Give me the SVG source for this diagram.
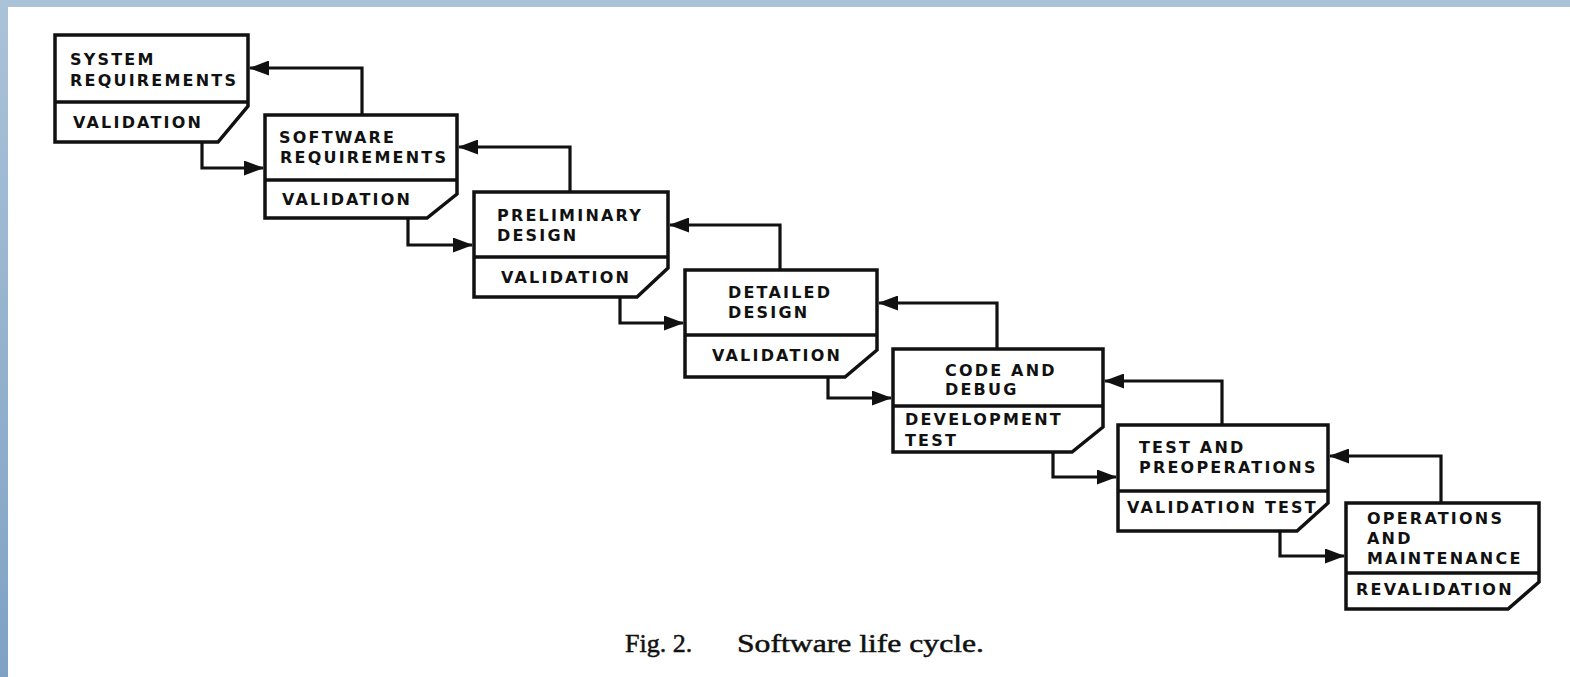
<svg xmlns="http://www.w3.org/2000/svg" width="1570" height="677" viewBox="0 0 1570 677">
<defs>
<linearGradient id="edge" x1="0" y1="0" x2="0" y2="1">
<stop offset="0" stop-color="#abc3d9"/>
<stop offset="1" stop-color="#7fa2c3"/>
</linearGradient>
<marker id="ah" markerUnits="userSpaceOnUse" markerWidth="20" markerHeight="15" refX="19" refY="7.5" orient="auto">
<path d="M0,0 L20,7.5 L0,15 Z" fill="#111"/>
</marker>
<style>
.box{fill:#fff;stroke:#111;stroke-width:3.5;stroke-linejoin:miter}
.div{stroke:#111;stroke-width:3.5}
.lbl{font-family:"DejaVu Sans","Liberation Sans",Arial,sans-serif;font-weight:bold;font-size:16px;letter-spacing:2.2px;fill:#111}
.con{fill:none;stroke:#111;stroke-width:3.2;marker-end:url(#ah)}
.cap{font-family:"Liberation Serif","Times New Roman",serif;font-size:26px;fill:#111;stroke:#111;stroke-width:0.5}
</style>
</defs>
<rect x="0" y="0" width="1570" height="677" fill="#fff"/>
<rect x="0" y="0" width="1570" height="7" fill="#abc3d9"/>
<rect x="0" y="0" width="8" height="677" fill="url(#edge)"/>

<g id="connectors">
<path class="con" d="M362,115 V68 H250"/>
<path class="con" d="M570,192 V147 H459"/>
<path class="con" d="M780,270 V225 H670"/>
<path class="con" d="M997,349 V303 H879"/>
<path class="con" d="M1222,425 V381 H1105"/>
<path class="con" d="M1441,503 V456 H1330"/>
<path class="con" d="M202,142 V168 H263"/>
<path class="con" d="M408,218 V245 H472"/>
<path class="con" d="M620,297 V323 H683"/>
<path class="con" d="M828,377 V398 H891"/>
<path class="con" d="M1053,452 V477 H1116"/>
<path class="con" d="M1280,531 V556 H1344"/>
</g>

<g id="system-requirements">
<path class="box" d="M55,35 H248 V106 L218,142 H55 Z"/>
<line class="div" x1="55" y1="102" x2="248" y2="102"/>
<text class="lbl" x="70" y="65">SYSTEM</text>
<text class="lbl" x="70" y="86">REQUIREMENTS</text>
<text class="lbl" x="73" y="128">VALIDATION</text>
</g>

<g id="software-requirements">
<path class="box" d="M265,115 H457 V194 L427,218 H265 Z"/>
<line class="div" x1="265" y1="180" x2="457" y2="180"/>
<text class="lbl" x="279" y="143">SOFTWARE</text>
<text class="lbl" x="280" y="163">REQUIREMENTS</text>
<text class="lbl" x="282" y="205">VALIDATION</text>
</g>

<g id="preliminary-design">
<path class="box" d="M474,192 H668 V268 L637,297 H474 Z"/>
<line class="div" x1="474" y1="257" x2="668" y2="257"/>
<text class="lbl" x="497" y="221">PRELIMINARY</text>
<text class="lbl" x="497" y="241">DESIGN</text>
<text class="lbl" x="501" y="283">VALIDATION</text>
</g>

<g id="detailed-design">
<path class="box" d="M685,270 H877 V350 L845,377 H685 Z"/>
<line class="div" x1="685" y1="335" x2="877" y2="335"/>
<text class="lbl" x="728" y="298">DETAILED</text>
<text class="lbl" x="728" y="318">DESIGN</text>
<text class="lbl" x="712" y="361">VALIDATION</text>
</g>

<g id="code-and-debug">
<path class="box" d="M893,349 H1103 V427 L1072,452 H893 Z"/>
<line class="div" x1="893" y1="406" x2="1103" y2="406"/>
<text class="lbl" x="945" y="376">CODE AND</text>
<text class="lbl" x="945" y="395">DEBUG</text>
<text class="lbl" x="905" y="425">DEVELOPMENT</text>
<text class="lbl" x="905" y="446">TEST</text>
</g>

<g id="test-and-preoperations">
<path class="box" d="M1118,425 H1328 V503 L1297,531 H1118 Z"/>
<line class="div" x1="1118" y1="491" x2="1328" y2="491"/>
<text class="lbl" x="1139" y="453">TEST AND</text>
<text class="lbl" x="1139" y="473">PREOPERATIONS</text>
<text class="lbl" x="1127" y="513">VALIDATION TEST</text>
</g>

<g id="operations-and-maintenance">
<path class="box" d="M1346,503 H1539 V582 L1508,609 H1346 Z"/>
<line class="div" x1="1346" y1="573" x2="1539" y2="573"/>
<text class="lbl" x="1367" y="524">OPERATIONS</text>
<text class="lbl" x="1367" y="544">AND</text>
<text class="lbl" x="1367" y="564">MAINTENANCE</text>
<text class="lbl" x="1356" y="595">REVALIDATION</text>
</g>

<g id="caption">
<text class="cap" x="625" y="652">Fig. 2.</text>
<text class="cap" x="737" y="652" textLength="247" lengthAdjust="spacingAndGlyphs">Software life cycle.</text>
</g>
</svg>
